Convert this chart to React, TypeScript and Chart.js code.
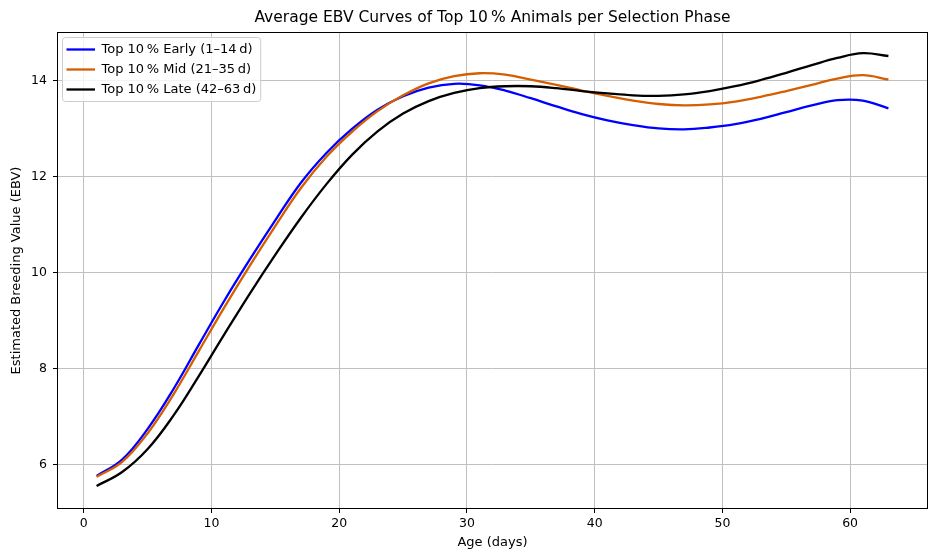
import React, { useEffect, useRef } from "react";
import { Chart, registerables } from "chart.js";

Chart.register(...registerables);

const days = [1, 3, 5, 7, 9, 11, 13, 15, 17, 19, 21, 23, 25, 27, 29, 31, 33, 35, 37, 39, 41, 43, 45, 47, 49, 51, 53, 55, 57, 59, 61, 63];

const earlyValues = [5.77, 6.11, 6.75, 7.57, 8.5, 9.42, 10.28, 11.1, 11.88, 12.5, 13.0, 13.4, 13.68, 13.86, 13.94, 13.91, 13.8, 13.64, 13.47, 13.31, 13.18, 13.08, 13.01, 12.99, 13.03, 13.1, 13.21, 13.35, 13.49, 13.6, 13.59, 13.43];

const midValues = [5.75, 6.06, 6.66, 7.46, 8.37, 9.28, 10.15, 10.98, 11.77, 12.42, 12.94, 13.37, 13.7, 13.95, 14.1, 14.16, 14.13, 14.03, 13.92, 13.8, 13.69, 13.59, 13.52, 13.49, 13.51, 13.57, 13.67, 13.79, 13.92, 14.05, 14.12, 14.03];

const lateValues = [5.56, 5.85, 6.33, 7.02, 7.85, 8.72, 9.57, 10.38, 11.15, 11.85, 12.46, 12.95, 13.32, 13.58, 13.75, 13.85, 13.89, 13.89, 13.85, 13.79, 13.74, 13.7, 13.69, 13.72, 13.79, 13.89, 14.02, 14.17, 14.33, 14.48, 14.58, 14.52];

const seriesLabels = [
  "Top 10\u2009% Early (1\u201314\u2009d)",
  "Top 10\u2009% Mid (21\u201335\u2009d)",
  "Top 10\u2009% Late (42\u201363\u2009d)",
];
const seriesColors = ["#0000ff", "#d55e00", "#000000"];

const xTicks = [0, 10, 20, 30, 40, 50, 60];
const yTicks = [6, 8, 10, 12, 14];

const titleText = "Average EBV Curves of Top 10\u2009% Animals per Selection Phase";
const xTitle = "Age (days)";
const yTitle = "Estimated Breeding Value (EBV)";

const FONT = "'DejaVu Sans', 'Liberation Sans', sans-serif";

const framePlugin = {
  id: "frame",
  afterDatasetsDraw(chart: any) {
    const { ctx, chartArea: a } = chart;
    ctx.save();
    ctx.strokeStyle = "#000";
    ctx.lineWidth = 1;
    ctx.strokeRect(a.left + 0.5, a.top + 0.5, a.right - a.left - 1, a.bottom - a.top - 1);
    ctx.restore();
  },
};

const titlePlugin = {
  id: "mplTitle",
  afterDraw(chart: any) {
    const { ctx, chartArea: a } = chart;
    ctx.save();
    ctx.font = `15.5px ${FONT}`;
    ctx.fillStyle = "#000";
    ctx.textAlign = "center";
    ctx.textBaseline = "middle";
    ctx.fillText(titleText, (a.left + a.right) / 2, 18);
    ctx.restore();
  },
};

const legendPlugin = {
  id: "mplLegend",
  afterDraw(chart: any) {
    const { ctx, chartArea: a } = chart;
    const datasets = chart.data.datasets;
    ctx.save();
    ctx.font = `13px ${FONT}`;
    const x0 = a.left + 5;
    const y0 = a.top + 5;
    const textX = x0 + 39.5;
    let maxW = 0;
    datasets.forEach((d: any) => {
      maxW = Math.max(maxW, ctx.measureText(d.label).width);
    });
    const w = textX + maxW + 4 - x0;
    const h = 64;
    ctx.beginPath();
    ctx.roundRect(x0 + 0.5, y0 + 0.5, w, h, 3);
    ctx.fillStyle = "rgba(255,255,255,0.8)";
    ctx.fill();
    ctx.strokeStyle = "#cccccc";
    ctx.lineWidth = 1;
    ctx.stroke();
    datasets.forEach((d: any, i: number) => {
      const cy = y0 + 12.5 + i * 20;
      ctx.beginPath();
      ctx.moveTo(x0 + 4.5, cy);
      ctx.lineTo(x0 + 33, cy);
      ctx.strokeStyle = d.borderColor;
      ctx.lineWidth = 2.3;
      ctx.stroke();
      ctx.fillStyle = "#000";
      ctx.textAlign = "left";
      ctx.textBaseline = "middle";
      ctx.fillText(d.label, textX, cy + 0.5);
    });
    ctx.restore();
  },
};

export default function App() {
  const canvasRef = useRef<HTMLCanvasElement | null>(null);

  useEffect(() => {
    const canvas = canvasRef.current;
    if (!canvas) return;
    const seriesValues = [earlyValues, midValues, lateValues];
    const chart = new Chart(canvas, {
      type: "line",
      data: {
        datasets: seriesValues.map((vals, i) => ({
          label: seriesLabels[i],
          data: days.map((d, j) => ({ x: d, y: vals[j] })),
          borderColor: seriesColors[i],
          backgroundColor: seriesColors[i],
          borderWidth: 2.3,
          pointRadius: 0,
          fill: false,
          tension: 0.4,
          order: 3 - i,
        })),
      },
      options: {
        animation: false,
        responsive: false,
        devicePixelRatio: 1,
        layout: { padding: { left: 0, right: 12, top: 32, bottom: 0 } },
        plugins: {
          legend: { display: false },
          title: { display: false },
          tooltip: { enabled: false },
        },
        scales: {
          x: {
            type: "linear",
            min: -2.1,
            max: 66.1,
            afterBuildTicks: (axis: any) => {
              axis.ticks = xTicks.map((v) => ({ value: v }));
            },
            afterFit: (axis: any) => {
              axis.height = 51;
            },
            border: { display: false },
            grid: {
              color: "#c0c0c0",
              lineWidth: 1,
              tickColor: "#000",
              tickLength: 4,
              drawTicks: true,
            },
            ticks: {
              color: "#000",
              font: { family: FONT, size: 12.5 },
              padding: 3,
              maxRotation: 0,
              callback: (v: any) => String(v),
            },
            title: {
              display: true,
              text: xTitle,
              color: "#000",
              font: { family: FONT, size: 13 },
              padding: { top: 0, bottom: 10 },
            },
          },
          y: {
            type: "linear",
            min: 5.08,
            max: 15.02,
            afterBuildTicks: (axis: any) => {
              axis.ticks = yTicks.map((v) => ({ value: v }));
            },
            afterFit: (axis: any) => {
              axis.width = 57;
            },
            border: { display: false },
            grid: {
              color: "#c0c0c0",
              lineWidth: 1,
              tickColor: "#000",
              tickLength: 4,
              drawTicks: true,
            },
            ticks: {
              color: "#000",
              font: { family: FONT, size: 12.5 },
              padding: 6,
              callback: (v: any) => String(v),
            },
            title: {
              display: true,
              text: yTitle,
              color: "#000",
              font: { family: FONT, size: 13 },
              padding: { top: 9, bottom: 0 },
            },
          },
        },
      },
      plugins: [framePlugin, titlePlugin, legendPlugin],
    } as any);
    return () => chart.destroy();
  }, []);

  return (
    <div style={{ position: "absolute", left: 0, top: 0, width: 940, height: 560, background: "#fff" }}>
      <canvas ref={canvasRef} width={940} height={560} style={{ width: 940, height: 560, display: "block" }} />
    </div>
  );
}
